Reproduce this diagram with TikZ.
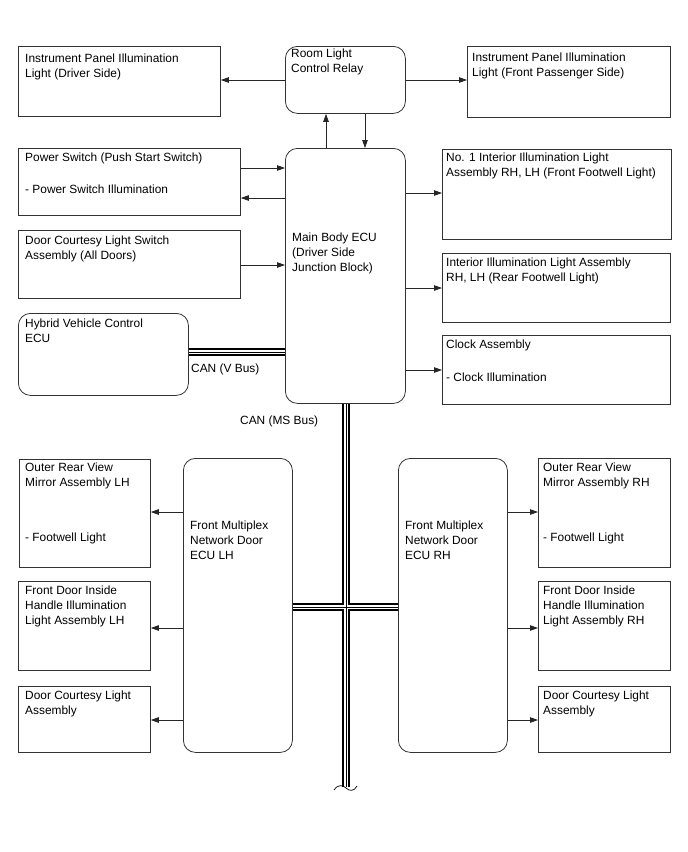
\documentclass[tikz,border=0pt]{standalone}
\usepackage{fontspec}
\setmainfont{Liberation Sans}
\usetikzlibrary{arrows.meta}

\tikzset{
  unit/.style={draw=black!80, line width=0.8pt, anchor=north west, inner sep=0pt},
  ecu/.style={unit, rounded corners=12pt},
  txt/.style={anchor=north west, inner sep=0pt, align=left, font=\fontsize{11.9}{15}\selectfont},
  arr/.style={draw=black!85, line width=0.8pt, -{Triangle[length=8pt,width=5.5pt]}},
  busouter/.style={line width=7.6pt},
  businner/.style={white, line width=3.6pt},
  buscore/.style={line width=1pt},
}

\begin{document}
\begin{tikzpicture}[x=1pt,y=-1pt]
  \useasboundingbox (0,0) rectangle (688,852);
  % top row
  \node[unit, minimum width=202pt, minimum height=70pt] (ipdrv) at (18,46) {};
  \node[ecu, minimum width=120pt, minimum height=67pt] (relay) at (285,46) {};
  \node[unit, minimum width=203pt, minimum height=71pt] (ippas) at (467,46) {};
  % main body ECU and its neighbours
  \node[unit, minimum width=222pt, minimum height=67pt] (pwsw) at (18,148) {};
  \node[ecu, minimum width=120pt, minimum height=255pt] (mbecu) at (285,148) {};
  \node[unit, minimum width=229pt, minimum height=90pt] (intfr) at (442,149) {};
  \node[unit, minimum width=222pt, minimum height=68pt] (dcsw) at (18,230) {};
  \node[unit, minimum width=228pt, minimum height=69pt] (intrr) at (442,253) {};
  \node[ecu, minimum width=170pt, minimum height=82pt] (hvecu) at (18,313) {};
  \node[unit, minimum width=228pt, minimum height=69pt] (clock) at (442,335) {};
  % door side, left
  \node[unit, minimum width=131pt, minimum height=108pt] (mirl) at (19,459) {};
  \node[ecu, minimum width=109pt, minimum height=294pt] (dmecul) at (183,458) {};
  \node[unit, minimum width=132pt, minimum height=89pt] (hdll) at (18,581) {};
  \node[unit, minimum width=132pt, minimum height=66pt] (dcll) at (18,686) {};
  % door side, right
  \node[ecu, minimum width=109pt, minimum height=294pt] (dmecur) at (398,458) {};
  \node[unit, minimum width=132pt, minimum height=109pt] (mirr) at (538,458) {};
  \node[unit, minimum width=132pt, minimum height=89pt] (hdlr) at (538,581) {};
  \node[unit, minimum width=132pt, minimum height=66pt] (dclr) at (538,686) {};

  % texts
  \node[txt] (ipdrvtxt) at (25,54) {Instrument Panel Illumination\\Light (Driver Side)};
  \node[txt] (relaytxt) at (291,49) {Room Light\\Control Relay};
  \node[txt] (ippastxt) at (472,53) {Instrument Panel Illumination\\Light (Front Passenger Side)};
  \node[txt] (pwswtxt) at (25,153) {Power Switch (Push Start Switch)\\[17pt]- Power Switch Illumination};
  \node[txt] (mbecutxt) at (292,233) {Main Body ECU\\(Driver Side\\Junction Block)};
  \node[txt] (intfrtxt) at (446,153) {No. 1 Interior Illumination Light\\Assembly RH, LH (Front Footwell Light)};
  \node[txt] (dcswtxt) at (25,236) {Door Courtesy Light Switch\\Assembly (All Doors)};
  \node[txt] (intrrtxt) at (446,258) {Interior Illumination Light Assembly\\RH, LH (Rear Footwell Light)};
  \node[txt] (hvecutxt) at (25,319) {Hybrid Vehicle Control\\ECU};
  \node[txt] (clocktxt) at (446,340) {Clock Assembly\\[18pt]- Clock Illumination};
  \node[txt] (mirltxt) at (25,463) {Outer Rear View\\Mirror Assembly LH\\[40pt]- Footwell Light};
  \node[txt] (dmecultxt) at (190,521) {Front Multiplex\\Network Door\\ECU LH};
  \node[txt] (hdlltxt) at (25,586) {Front Door Inside\\Handle Illumination\\Light Assembly LH};
  \node[txt] (dclltxt) at (25,691) {Door Courtesy Light\\Assembly};
  \node[txt] (dmecurtxt) at (405,521) {Front Multiplex\\Network Door\\ECU RH};
  \node[txt] (mirrtxt) at (543,463) {Outer Rear View\\Mirror Assembly RH\\[40pt]- Footwell Light};
  \node[txt] (hdlrtxt) at (543,586) {Front Door Inside\\Handle Illumination\\Light Assembly RH};
  \node[txt] (dclrtxt) at (543,691) {Door Courtesy Light\\Assembly};
  \node[txt] (canv) at (191,364) {CAN (V Bus)};
  \node[txt] (canms) at (240,416) {CAN (MS Bus)};

  % arrows
  \draw[arr] (relay.west |- 0,80) -- (ipdrv.east |- 0,80);
  \draw[arr] (relay.east |- 0,80) -- (ippas.west |- 0,80);
  \draw[arr] (mbecu.north -| 326,0) -- (relay.south -| 326,0);
  \draw[arr] (relay.south -| 365,0) -- (mbecu.north -| 365,0);
  \draw[arr] (pwsw.east |- 0,168) -- (mbecu.west |- 0,168);
  \draw[arr] (mbecu.west |- 0,198) -- (pwsw.east |- 0,198);
  \draw[arr] (dcsw.east |- 0,265) -- (mbecu.west |- 0,265);
  \draw[arr] (mbecu.east |- 0,193) -- (intfr.west |- 0,193);
  \draw[arr] (mbecu.east |- 0,288) -- (intrr.west |- 0,288);
  \draw[arr] (mbecu.east |- 0,370) -- (clock.west |- 0,370);
  \draw[arr] (dmecul.west |- 0,512) -- (mirl.east |- 0,512);
  \draw[arr] (dmecul.west |- 0,628) -- (hdll.east |- 0,628);
  \draw[arr] (dmecul.west |- 0,720) -- (dcll.east |- 0,720);
  \draw[arr] (dmecur.east |- 0,512) -- (mirr.west |- 0,512);
  \draw[arr] (dmecur.east |- 0,628) -- (hdlr.west |- 0,628);
  \draw[arr] (dmecur.east |- 0,720) -- (dclr.west |- 0,720);

  % CAN buses
  \coordinate (busend) at (346,787);
  \foreach \s in {busouter,businner,buscore} {
    \draw[\s] (hvecu.east |- 0,352) -- (mbecu.west |- 0,352);
    \draw[\s] (mbecu.south -| busend) -- (busend);
    \draw[\s] (dmecul.east |- 0,607) -- (dmecur.west |- 0,607);
  }
  \draw[line width=0.7pt] (334,790) .. controls (338,784) and (343,785) .. (346,788)
    .. controls (349,791) and (354,792) .. (357,786);
\end{tikzpicture}
\end{document}
